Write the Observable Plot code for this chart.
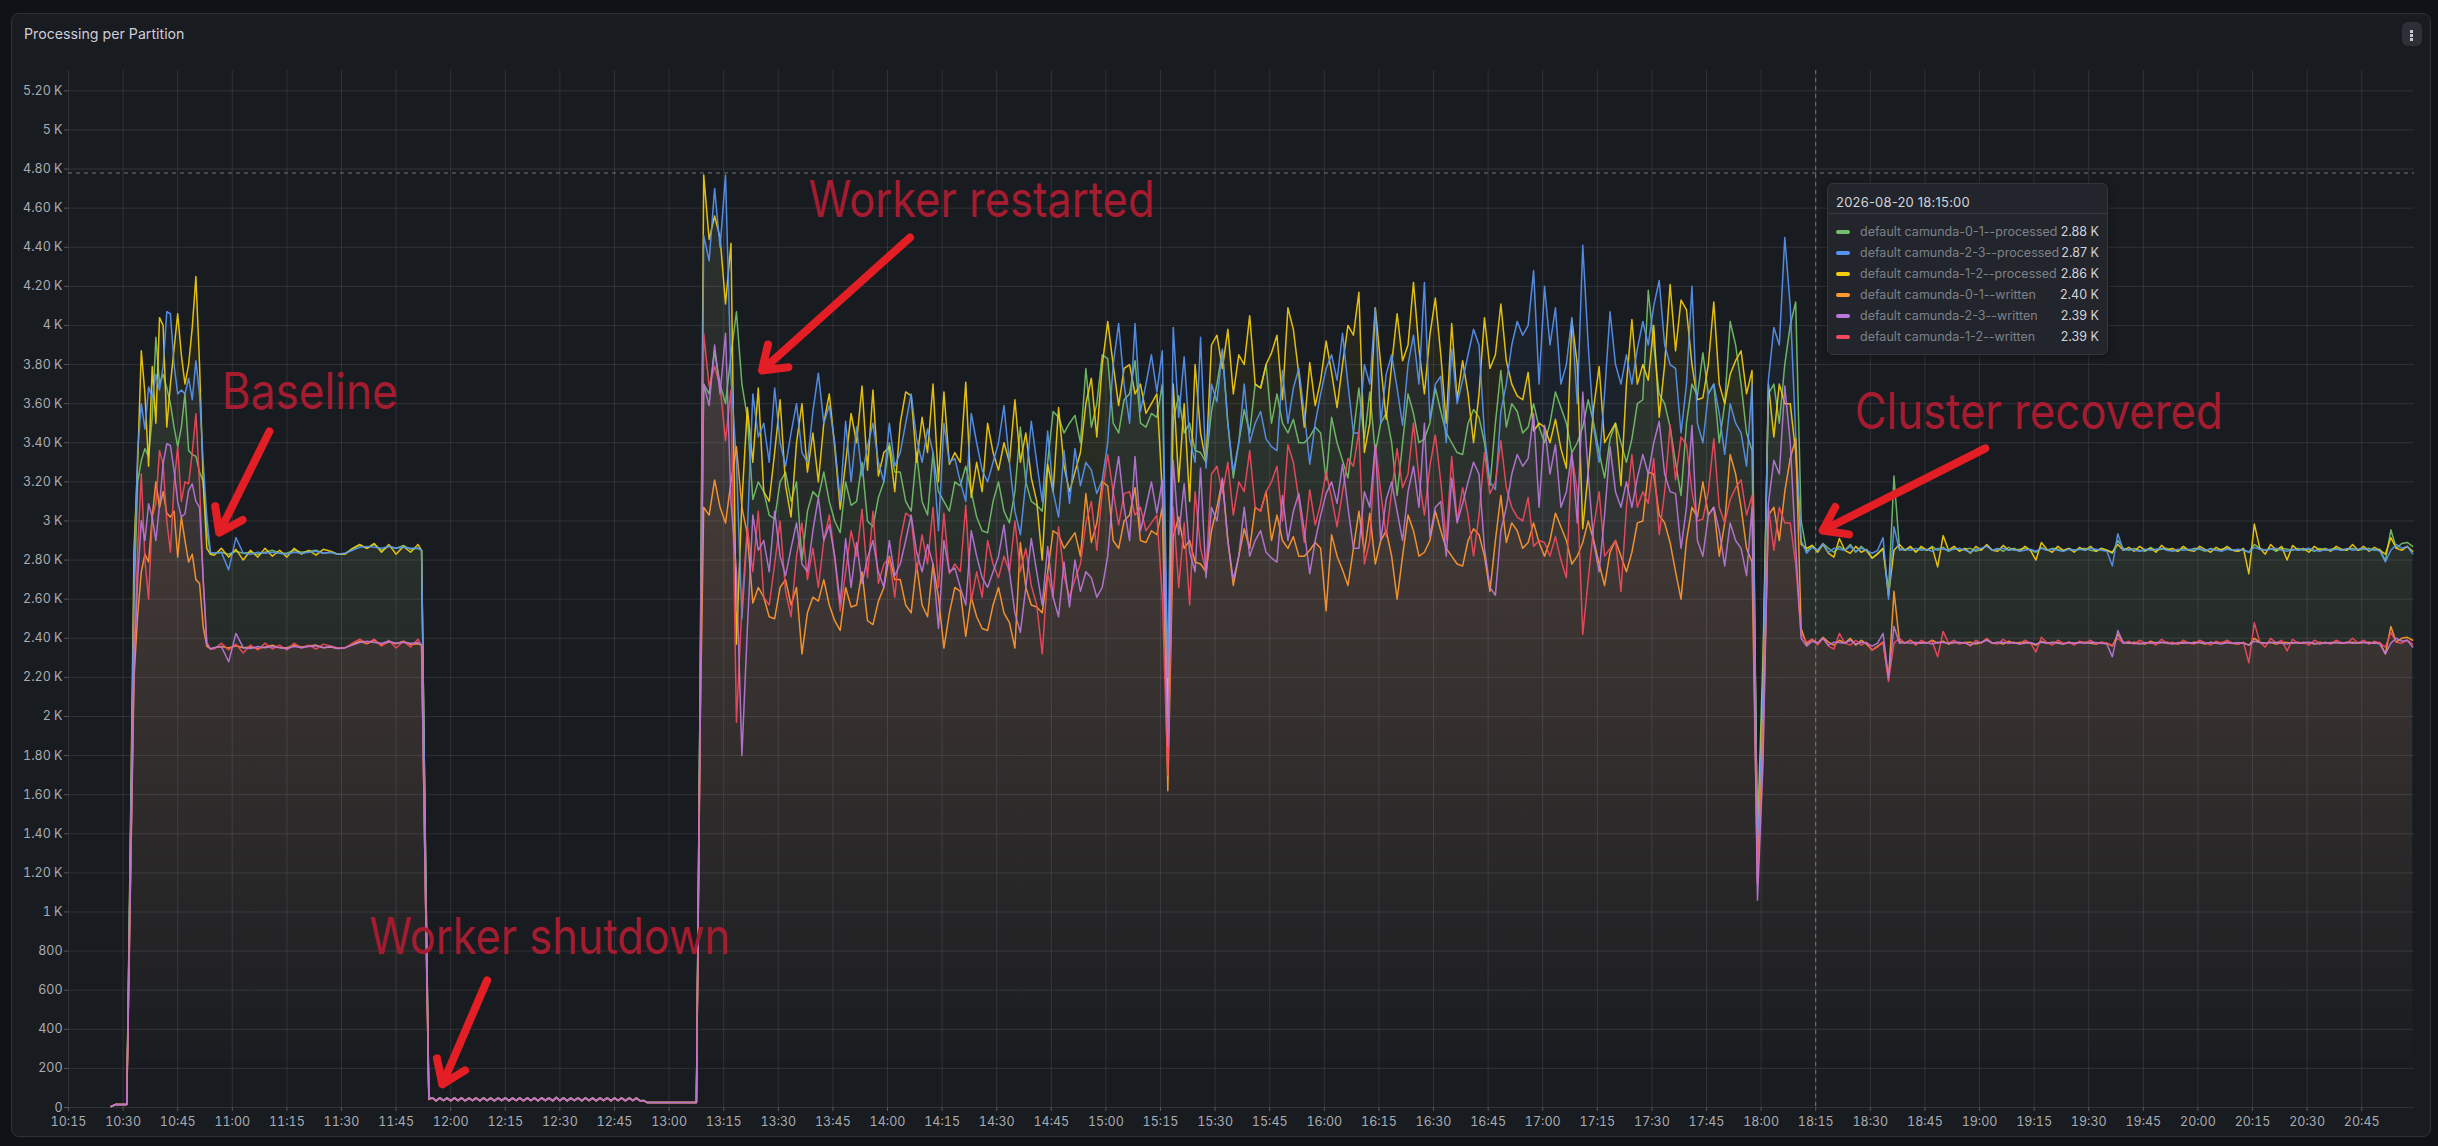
<!DOCTYPE html>
<html><head><meta charset="utf-8">
<script src="https://cdn.jsdelivr.net/npm/d3@7"></script>
<script src="https://cdn.jsdelivr.net/npm/@observablehq/plot@0.6"></script>
<style>
html,body{margin:0;padding:0;width:2438px;height:1146px;overflow:hidden;background:#111217;font-family:Inter,sans-serif}
#panel{position:absolute;left:11px;top:13px;width:2418px;height:1122px;background:#181b1f;border:1px solid #2f3136;border-radius:8px}
#title{position:absolute;left:24px;top:24px;font-size:14.2px;font-weight:400;line-height:20px;color:#ccccdc}
#menu{position:absolute;left:2402px;top:22px;width:20px;height:24px;border-radius:6px;background:#2d3036}
#menu i{position:absolute;left:8px;width:2.5px;height:2.5px;background:#c8c9d0}
#chart{position:absolute;left:0;top:60px}
#tip{position:absolute;left:1827px;top:183px;width:279px;height:170px;background:#22252b;border:1px solid #33363c;border-radius:6px;box-shadow:0 2px 8px rgba(0,0,0,.3)}
#tip .h{position:absolute;left:8px;top:9px;font-size:13px;font-weight:400;color:#d2d3da;line-height:18px;letter-spacing:.2px}
#tip .d{position:absolute;left:0;right:0;top:29px;height:1px;background:#34373d}
.row{position:absolute;left:0;right:0;height:18px;font-size:12.5px;line-height:18px}
.row b{position:absolute;left:8px;top:7px;width:14px;height:4px;border-radius:2px}
.row span{position:absolute;left:32px;color:#7e8188;white-space:nowrap}
.row em{position:absolute;right:8px;font-style:normal;font-weight:400;color:#d2d3da}
</style></head><body>
<div id="panel"></div>
<div id="title">Processing per Partition</div>
<div id="menu"><i style="top:8px"></i><i style="top:12px"></i><i style="top:16px"></i></div>
<div id="chart"></div>
<div id="tip"></div>
<script>
const seriesNames = ["default camunda-0-1--processed","default camunda-2-3--processed","default camunda-1-2--processed","default camunda-0-1--written","default camunda-2-3--written","default camunda-1-2--written"];
const seriesColors = ["#73BF69","#5794F2","#F2CC0C","#FF9830","#B877D9","#F2495C"];
const tipTime = "2026-08-20 18:15:00";
const tipValues = ["2.88 K","2.87 K","2.86 K","2.40 K","2.39 K","2.39 K"];
const xTickLabels = ["10:15","10:30","10:45","11:00","11:15","11:30","11:45","12:00","12:15","12:30","12:45","13:00","13:15","13:30","13:45","14:00","14:15","14:30","14:45","15:00","15:15","15:30","15:45","16:00","16:15","16:30","16:45","17:00","17:15","17:30","17:45","18:00","18:15","18:30","18:45","19:00","19:15","19:30","19:45","20:00","20:15","20:30","20:45"];
const yTickValues = [0,200,400,600,800,1000,1200,1400,1600,1800,2000,2200,2400,2600,2800,3000,3200,3400,3600,3800,4000,4200,4400,4600,4800,5000,5200];
const yTickLabels = ["0","200","400","600","800","1 K","1.20 K","1.40 K","1.60 K","1.80 K","2 K","2.20 K","2.40 K","2.60 K","2.80 K","3 K","3.20 K","3.40 K","3.60 K","3.80 K","4 K","4.20 K","4.40 K","4.60 K","4.80 K","5 K","5.20 K"];
const noteTexts = ["Baseline","Worker shutdown","Worker restarted","Cluster recovered"];
const noteX = [657.1,697.6,818.3,1105.7];
const noteY = [3575,783,4554,3468];
const noteWidths = [176,361,346,368];
const arrowX1 = [670.2,730,846.2,1141.6];
const arrowY1 = [3458,650,4450,3371];
const arrowX2 = [656.4,717.7,805.5,1096.9];
const arrowY2 = [2940,118,3770,2951];
const crosshairMinute = 1095;
const crosshairValue = 4780;

// 10:26.7 - 10:54
const startGreen = [5,15,15,1300,2600,3200,3310,3370,3330,3530,3940,3700,3750,3680,3600,3480,3380,3480,3650,3360,3340,3330,3250,3200,2950,2830];
const startBlue = [5,15,15,1350,2700,3360,3600,3470,3685,3630,3750,3670,3790,4070,4060,3800,3650,3670,3650,3730,3620,3820,3650,3300,3020,2840];
const startYellow = [5,15,15,1400,2850,3300,3870,3650,3280,3790,3500,4040,4000,3480,3700,3880,4060,3850,3700,3800,3990,4250,3800,3200,2860,2830];
const startOrange = [5,15,15,1100,2200,2520,2740,2830,2790,3020,3200,3070,3150,3040,3020,3050,2815,3020,2900,2790,2830,2700,2680,2460,2360,2345];
const startPurple = [5,15,15,1150,2250,2700,3003,2900,3088,3020,2900,3080,3293,3395,3386,3259,3100,3020,3037,3156,3190,3100,3070,2700,2370,2345];
const startRed = [5,15,15,1150,2300,2850,3240,2800,2600,3020,3090,3360,3290,3000,2840,3190,3380,3100,3200,3190,3350,3548,3190,2700,2380,2345];

// 10:55 - 11:54 baseline
const baseGreen = [2835,2840,2830,2845,2835,2840,2830,2840,2850,2835,
2835,2850,2840,2845,2850,2835,2840,2830,2835,2855,
2875,2860,2880,2850,2870,2860,2875,2855,2860,2850,
1380,45];
const baseBlue = [2835,2840,2750,2915,2835,2830,2840,2835,2840,2835,
2830,2840,2835,2840,2845,2835,2840,2830,2835,2850,
2865,2870,2865,2860,2870,2860,2865,2860,2862,2850,
1400,46];
const baseYellow = [2825,2860,2815,2855,2800,2850,2815,2860,2820,2850,
2815,2860,2830,2850,2825,2855,2845,2830,2830,2860,
2880,2860,2885,2840,2880,2830,2870,2840,2880,2850,
1420,44];
const baseOrange = [2352,2358,2350,2362,2352,2355,2348,2355,2365,2352,
2352,2365,2355,2360,2365,2352,2355,2348,2352,2368,
2385,2372,2390,2365,2382,2372,2385,2368,2372,2365,
1150,40];
const basePurple = [2352,2358,2280,2425,2352,2348,2358,2352,2358,2352,
2348,2358,2352,2358,2362,2352,2358,2348,2352,2365,
2378,2385,2378,2375,2385,2375,2380,2375,2378,2365,
1160,43];
const baseRed = [2345,2375,2340,2370,2325,2365,2340,2375,2345,2365,
2340,2375,2350,2365,2345,2370,2360,2350,2350,2375,
2395,2375,2395,2360,2390,2350,2385,2355,2395,2365,
1170,42];

// 11:55 - 13:08.5 worker down
const idleProcessed = [50,35,50,36,49,35,50,36,50,35,
49,36,50,35,50,36,49,35,50,36,
50,35,49,36,50,35,50,36,49,35,
50,36,50,35,52,36,50,35,49,36,
50,35,50,36,49,35,50,36,50,35,
49,36,50,35,50,36,49,35,36,
25,25,25,2100];
const idleWritten = [48,34,48,35,47,34,48,35,48,34,
47,35,48,34,48,35,47,34,48,35,
48,34,47,35,48,34,48,35,47,34,
48,35,48,34,50,35,48,34,47,35,
48,34,48,35,47,34,48,35,48,34,
47,35,48,34,48,35,47,34,35,
25,25,25,1900];

// 13:09.5 - 18:11, every 90 s
const noiseGreen = [3700,3650,3870,3700,3600,3850,4070,3700,3530,3110,
3200,3150,3030,3010,3200,3250,3100,3200,2800,3050,
3150,3120,3250,3100,3000,2940,3200,3080,3100,3300,
3000,2970,3120,3200,3400,3250,3250,3100,3050,3350,
3100,3030,3350,3150,3100,3050,3200,3180,3280,3150,
3020,2950,2940,3100,3200,3050,2990,3150,3480,3200,
3100,3080,3050,3300,3560,3530,3450,3500,3540,3400,
3780,3480,3600,3850,3830,3500,3450,3620,3650,3820,
3500,3480,3550,3530,3700,2100,3520,3640,3450,3500,
3360,3350,3300,3560,3700,3870,3500,3220,3400,3570,
3450,3700,
3680,3800,3500,3650,3500,3450,3520,3400,3400,3430,
3480,3450,3210,3530,3400,3310,3220,3450,3680,3420,
3660,3350,3500,3550,3400,3130,3400,3650,3550,3400,
3420,3500,3680,3560,3450,3400,3350,3340,3500,3570,
3530,3400,3180,3500,3770,3480,3600,3560,3450,3480,
3600,3480,3400,3500,3660,3580,3500,3350,3400,3480,
3620,3500,3350,3220,3420,3500,3400,3300,3420,3600,
3620,4180,3900,3650,3600,3480,3300,3130,3500,3700,
3640,3860,3650,3700,3400,3600,4020,3900,3700,3450,
3360,1400,2300,3650,3700,3500,3800,4000,4120,3000];
const noiseBlue = [4460,4330,4700,4400,4770,3740,3300,2500,2950,3650,
3430,3500,3300,3680,3400,3280,3450,3600,3350,3300,
3560,3756,3500,3590,3400,3105,3510,3200,3480,3230,
3380,3500,3300,3200,3500,3280,3350,3500,3650,3420,
3300,3470,3350,2950,3500,3300,3320,3200,3100,3550,
3400,3260,3200,3300,3400,3590,3300,3050,2930,3200,
3510,3300,3100,3460,3150,3020,3360,3090,3370,3180,
3300,3260,3140,3210,3400,3800,4010,3700,3500,4010,
3560,3700,3850,3660,3870,2200,3990,3530,3840,3420,
3300,3940,3270,3700,3610,3880,3500,3250,3400,3700,
3400,3500,
3560,3420,3380,3360,3770,3500,3680,3780,3550,3290,
3500,3650,3780,3850,3720,3960,3700,3450,3450,3800,
3700,4090,3500,3750,3850,3680,3490,3800,3950,3700,
4220,3520,3700,3740,3400,3880,3600,3720,3850,3980,
3900,3450,3200,3160,3560,3700,3900,4020,3950,4000,
4280,3700,4200,3900,4090,3700,3800,4040,3600,4410,
3900,3480,3300,3650,4070,3800,3700,3850,3700,3880,
4020,3900,4100,4230,3900,3800,3780,3450,3700,4200,
3500,3400,3650,3700,3550,3340,3600,3500,3450,3280,
3700,1250,2100,3720,3990,3900,4450,4100,3440,2900];
const noiseYellow = [4770,4440,4560,4450,4110,4420,2370,3100,3580,3300,
3680,3150,3100,3350,3620,3180,3020,3400,3600,3250,
3450,3200,3500,3650,3380,3060,3300,3550,3400,3690,
3260,3670,3230,3350,3380,3150,3500,3660,3640,3300,
3530,3350,3700,3200,3660,3290,3350,3300,3710,3120,
3300,3150,3500,3350,3260,3400,3300,3620,3300,3450,
3220,3100,2800,3290,3150,3580,3280,3150,3250,3350,
3600,3730,3430,3800,4020,3800,3590,3780,3800,3650,
3700,3550,3600,3650,3150,2000,3700,3200,3600,3100,
3800,3450,3300,3900,3950,3780,3980,3650,3850,3800,
4050,3700,
3680,3800,3860,3950,3620,4090,3980,3750,3480,3810,
3590,3720,3920,3760,3580,3800,4000,3950,4170,3350,
3500,4090,3800,3520,3800,4060,3820,3900,4220,3880,
3650,3950,4140,3850,3500,4010,3620,3820,3650,3400,
3650,4040,3780,3850,4110,3820,3700,3640,3620,3760,
3460,3500,3480,3400,3520,3370,3270,4030,3800,2960,
3250,3580,3790,3400,3450,3500,3180,3700,4030,3700,
3800,3720,4000,3530,3800,4210,3870,4130,4080,3800,
3620,3630,3800,4120,3700,3600,3750,3820,3870,3650,
3770,1260,2200,3700,3430,3700,3600,3600,3350,2880];
const noiseOrange = [3070,3030,3210,3070,2990,3200,3380,3070,2930,2580,
2660,2610,2510,2500,2660,2700,2570,2660,2320,2530,
2610,2590,2700,2570,2490,2440,2660,2560,2570,2740,
2490,2470,2590,2660,2820,2700,2700,2570,2530,2780,
2570,2510,2780,2610,2350,2530,2660,2640,2410,2610,
2510,2450,2440,2570,2660,2530,2480,2350,2890,2660,
2570,2560,2530,2740,2950,2930,2860,2900,2940,2820,
3140,2890,2990,3200,3180,2900,2860,3000,3030,3170,
2900,2890,2950,2930,3070,1620,2920,3020,2860,2900,
2790,2780,2740,2950,3070,3210,2900,2670,2820,2960,
2860,3070,
3050,3150,2900,3030,2900,2860,2920,2820,2820,2850,
2890,2860,2540,2930,2820,2750,2670,2860,3050,2840,
3040,2780,2900,2950,2820,2600,2820,3030,2950,2820,
2840,2900,3050,2950,2860,2820,2780,2770,2900,2960,
2930,2820,2640,2900,3130,2890,2990,2950,2860,2890,
2990,2890,2820,2900,3040,2970,2900,2780,2820,2890,
3000,2900,2780,2670,2840,2900,2820,2740,2840,2990,
3000,3250,3240,3030,2990,2890,2740,2600,2900,3070,
3020,3200,3030,3070,2820,2990,3340,3240,3070,2860,
2790,1150,1900,3030,3070,2900,3150,3320,3420,2450];
const noisePurple = [3700,3590,3900,3650,3960,3100,2740,1800,2450,3030,
2850,2900,2740,3050,2820,2720,2860,2990,2780,2740,
2950,3120,2900,2980,2820,2580,2910,2660,2890,2680,
2810,2900,2740,2660,2900,2720,2780,2900,3030,2840,
2740,2880,2780,2450,2900,2740,2760,2660,2570,2950,
2820,2710,2660,2740,2820,2980,2740,2530,2430,2660,
2910,2740,2570,2870,2610,2510,2790,2560,2800,2640,
2740,2710,2610,2660,2820,3150,3330,3070,2900,3330,
2950,3070,3200,3040,3210,1850,3310,2930,3190,2840,
2740,3270,2710,3070,3000,3220,2900,2700,2820,3070,
2820,2900,
2950,2840,2810,2790,3130,2900,3050,3140,2950,2730,
2900,3030,3140,3200,3090,3290,3070,2860,2860,3150,
3070,3390,2900,3110,3200,3050,2900,3150,3280,3070,
3500,2920,3070,3100,2820,3220,2990,3090,3200,3300,
3240,2860,2660,2620,2950,3070,3240,3340,3280,3320,
3550,3070,3490,3240,3390,3070,3150,3350,2990,3660,
3240,2890,2740,3030,3380,3150,3070,3200,3070,3220,
3340,3240,3400,3510,3240,3150,3140,2860,3070,3490,
2900,2820,3030,3070,2950,2770,2990,2900,2860,2720,
3070,1060,1750,3090,3310,3240,3690,3400,2860,2400];
const noiseRed = [3960,3690,3790,3690,3410,3670,1970,2570,2970,2740,
3050,2610,2570,2780,3000,2640,2510,2820,2990,2700,
2860,2660,2900,3030,2810,2540,2740,2950,2820,3060,
2710,3050,2680,2780,2810,2610,2900,3040,3020,2740,
2930,2780,3070,2660,3040,2730,2780,2740,3080,2590,
2740,2610,2900,2780,2710,2820,2740,3000,2740,2860,
2670,2570,2320,2730,2610,2970,2720,2610,2700,2780,
2990,3100,2850,3150,3340,3150,2980,3140,3150,3030,
3070,2950,2990,3030,2610,1700,3070,2660,2990,2570,
3150,2860,2740,3240,3280,3140,3300,3030,3200,3150,
3360,3070,
3050,3150,3200,3280,3000,3390,3300,3110,2890,3160,
2980,3090,3250,3120,2970,3150,3320,3280,3460,2780,
2900,3390,3150,2920,3150,3370,3170,3240,3500,3220,
3030,3280,3440,3200,2900,3330,3000,3170,3030,2820,
3030,3350,3140,3200,3410,3170,3070,3020,3000,3120,
2870,2900,2890,2820,2920,2800,2710,3340,3150,2420,
2700,2970,3150,2820,2860,2900,2640,3070,3340,3070,
3150,3090,3320,2930,3150,3490,3210,3430,3390,3150,
3000,3010,3150,3420,3070,2990,3110,3170,3210,3030,
3130,1150,1800,3070,2850,3070,2990,2990,2780,2420];

// 18:12.5 - 20:59, every 90 s
const tailGreen = [2845,2875,2850,2885,2860,2840,2870,2850,2880,2840,
2870,2845,2810,2835,2860,2640,3230,2860,2850,2865,
2845,2860,2850,2870,2850,2865,2845,2860,2850,2855,
2860,2845,2855,2875,2850,2860,2845,2865,2850,2855,
2860,2850,2840,2865,2850,2860,2855,2845,2860,2850,
2855,2860,2850,2845,2860,2850,2835,2900,2860,2850,
2860,2850,2845,2865,2850,2855,2860,2850,2845,2860,
2850,2860,2855,2845,2860,2850,2855,2860,2850,2845,
2855,2840,2880,2860,2850,2860,2845,2860,2855,2850,
2860,2850,2855,2845,2860,2850,2855,2860,2850,2855,
2860,2850,2855,2860,2850,2855,2795,2955,2860,2885,
2890,2870];
const tailBlue = [2835,2865,2850,2880,2840,2860,2855,2850,2870,2845,
2860,2850,2835,2850,2915,2600,2970,2850,2855,2850,
2860,2850,2855,2845,2860,2855,2850,2855,2860,2850,
2840,2855,2860,2870,2850,2855,2860,2850,2855,2845,
2850,2855,2845,2860,2850,2855,2850,2845,2855,2850,
2855,2850,2860,2855,2850,2845,2770,2935,2850,2855,
2850,2845,2855,2850,2855,2860,2850,2845,2855,2850,
2855,2850,2860,2850,2855,2850,2845,2855,2850,2855,
2850,2840,2865,2855,2850,2855,2860,2850,2845,2855,
2850,2855,2860,2850,2845,2855,2850,2855,2850,2860,
2850,2855,2860,2850,2855,2845,2790,2850,2880,2860,
2870,2832];
const tailYellow = [2860,2875,2840,2880,2835,2815,2910,2850,2835,2870,
2840,2855,2810,2830,2860,2620,2850,2880,2850,2870,
2840,2870,2850,2865,2765,2925,2850,2870,2845,2860,
2835,2870,2850,2880,2850,2845,2875,2850,2860,2845,
2870,2850,2800,2890,2855,2840,2870,2850,2860,2840,
2865,2850,2870,2845,2860,2850,2840,2880,2850,2865,
2845,2870,2850,2860,2840,2875,2850,2860,2845,2870,
2850,2845,2870,2855,2840,2865,2850,2870,2850,2845,
2860,2730,2985,2860,2830,2880,2850,2870,2800,2875,
2850,2860,2840,2870,2850,2860,2845,2870,2855,2850,
2880,2850,2870,2845,2865,2850,2830,2915,2860,2850,
2870,2845];
const tailOrange = [2370,2395,2375,2405,2380,2365,2390,2375,2400,2365,
2390,2370,2340,2360,2380,2190,2640,2385,2375,2390,
2370,2380,2375,2390,2375,2385,2370,2380,2375,2378,
2380,2370,2378,2395,2375,2380,2370,2385,2375,2378,
2380,2375,2365,2385,2375,2380,2378,2370,2380,2375,
2378,2380,2375,2370,2380,2375,2360,2420,2380,2375,
2380,2375,2370,2385,2375,2378,2380,2375,2370,2380,
2375,2380,2378,2370,2380,2375,2378,2380,2375,2370,
2378,2365,2400,2380,2375,2380,2370,2380,2378,2375,
2380,2375,2378,2370,2380,2375,2378,2380,2375,2378,
2380,2375,2378,2380,2375,2378,2320,2460,2380,2400,
2405,2390];
const tailPurple = [2360,2385,2375,2400,2365,2380,2378,2375,2390,2370,
2380,2375,2360,2375,2425,2200,2460,2375,2378,2375,
2380,2375,2378,2370,2380,2378,2375,2378,2380,2375,
2365,2378,2380,2390,2375,2378,2380,2375,2378,2370,
2375,2378,2370,2380,2375,2378,2375,2370,2378,2375,
2378,2375,2380,2378,2375,2370,2305,2440,2375,2378,
2375,2370,2378,2375,2378,2380,2375,2370,2378,2375,
2378,2375,2380,2375,2378,2375,2370,2378,2375,2378,
2375,2365,2385,2378,2375,2378,2380,2375,2370,2378,
2375,2378,2380,2375,2370,2378,2375,2378,2375,2380,
2375,2378,2380,2375,2378,2370,2320,2375,2400,2385,
2390,2355];
const tailRed = [2380,2395,2365,2400,2360,2345,2425,2375,2365,2390,
2365,2380,2340,2355,2380,2180,2375,2400,2375,2390,
2365,2390,2375,2385,2305,2435,2375,2390,2370,2380,
2360,2390,2375,2400,2375,2370,2395,2375,2380,2370,
2390,2375,2330,2405,2378,2365,2390,2375,2380,2365,
2385,2375,2390,2370,2380,2375,2365,2400,2375,2385,
2370,2390,2375,2380,2365,2395,2375,2380,2370,2390,
2375,2370,2390,2378,2365,2385,2375,2390,2375,2370,
2380,2275,2480,2380,2355,2400,2375,2390,2335,2395,
2375,2380,2365,2390,2375,2380,2370,2390,2378,2375,
2400,2375,2390,2370,2385,2375,2355,2430,2380,2375,
2390,2370];

// sample times, minutes after midnight
const timesStart = [626.7,628,631,...d3.range(632,655)];
const timesBase = [...d3.range(655,712,2),712,713,714];
const timesIdle = [...d3.range(715,774),774,780,787.5,788.5];
const timesNoise = d3.range(202).map(k => 789.5 + 1.5*k);
const timesTail = d3.range(112).map(m => 1092.5 + 1.5*m);

const when = m => new Date(Date.UTC(2026,7,20,0,0,Math.round(m*60)));
const fromLabel = s => { const [h,m] = s.split(":").map(Number); return when(h*60+m); };

const segments = [
 [timesStart,[startGreen,startBlue,startYellow,startOrange,startPurple,startRed]],
 [timesBase,[baseGreen,baseBlue,baseYellow,baseOrange,basePurple,baseRed]],
 [timesIdle,[idleProcessed,idleProcessed,idleProcessed,idleWritten,idleWritten,idleWritten]],
 [timesNoise,[noiseGreen,noiseBlue,noiseYellow,noiseOrange,noisePurple,noiseRed]],
 [timesTail,[tailGreen,tailBlue,tailYellow,tailOrange,tailPurple,tailRed]]
];
const rowsFor = i => segments.flatMap(([ts,vs]) => ts.map((t,k)=>({t:when(t),v:vs[i][k]})).filter(d=>d.v!=null));
const table = seriesNames.map((_,i)=>rowsFor(i));
// draw order: written over processed, blue over yellow, purple over red
const order = [0,2,1,3,5,4];

const W = 2438, H = 1076, mT = 10, mB = 29, mL = 68, mR = 24;

const gradients = () => {
  const defs = d3.create("svg:defs");
  seriesColors.forEach((c,i)=>{
    const g = defs.append("linearGradient").attr("id","fade"+i).attr("gradientUnits","userSpaceOnUse")
      .attr("x1",0).attr("x2",0).attr("y1",mT).attr("y2",H-mB-20);
    g.append("stop").attr("offset",0).attr("stop-color",c).attr("stop-opacity",0.085);
    g.append("stop").attr("offset",1).attr("stop-color",c).attr("stop-opacity",0);
  });
  return defs.node();
};

const xTicks = xTickLabels.map(fromLabel);
const plot = Plot.plot({
  width: W, height: H, marginTop: mT, marginBottom: mB, marginLeft: mL, marginRight: mR,
  style: {background:"transparent", fontFamily:"Inter, sans-serif", fontSize:"12.5px", color:"#a9abb3", overflow:"visible"},
  x: {type:"utc", domain:[fromLabel("10:15"), when(615+644.5)]},
  y: {domain:[0,5304]},
  marks: [
    gradients,
    ...order.map(i => Plot.areaY(table[i], {x:"t", y:"v", fill:`url(#fade${i})`, curve:"linear"})),
    Plot.gridX(xTicks, {stroke:"#ccccdc", strokeOpacity:.13, strokeWidth:1}),
    Plot.gridY(yTickValues, {stroke:"#ccccdc", strokeOpacity:.13, strokeWidth:1}),
    Plot.ruleX([when(crosshairMinute)], {stroke:"#8a8c92", strokeOpacity:.8, strokeDasharray:"4 4", strokeWidth:1}),
    Plot.ruleY([crosshairValue], {stroke:"#8a8c92", strokeOpacity:.8, strokeDasharray:"4 4", strokeWidth:1}),
    ...order.map(i => Plot.line(table[i], {x:"t", y:"v", stroke:seriesColors[i], strokeWidth:1.5, strokeOpacity:.92, curve:"linear"})),
    Plot.axisX({ticks:xTicks, tickFormat:d3.utcFormat("%H:%M"), tickSize:4, tickPadding:6, stroke:"#55575c", fill:"#a9abb3", label:null, fontSize:12.5}),
    Plot.axisY({ticks:yTickValues, tickFormat:v=>yTickLabels[yTickValues.indexOf(v)], tickSize:4, tickPadding:2, stroke:"#55575c", fill:"#a9abb3", label:null, fontSize:12.5}),
    Plot.text(noteTexts, {x:(d,i)=>when(noteX[i]), y:(d,i)=>noteY[i], text:d=>d, textAnchor:"start", lineAnchor:"bottom", fontSize:50, fill:"#A51C30", className:"note"}),
    Plot.arrow(noteTexts, {x1:(d,i)=>when(arrowX1[i]), y1:(d,i)=>arrowY1[i], x2:(d,i)=>when(arrowX2[i]), y2:(d,i)=>arrowY2[i], stroke:"#E31E24", strokeWidth:8, headLength:5, headAngle:70, inset:0})
  ]
});
plot.querySelectorAll(".note text").forEach((el,i)=>{
  el.setAttribute("textLength", noteWidths[i]);
  el.setAttribute("lengthAdjust","spacingAndGlyphs");
});
document.getElementById("chart").append(plot);

const tip = document.getElementById("tip");
tip.innerHTML = `<div class="h">${tipTime}</div><div class="d"></div>` +
  seriesNames.map((n,i)=>`<div class="row" style="top:${39+i*21}px"><b style="background:${seriesColors[i]}"></b><span>${n}</span><em>${tipValues[i]}</em></div>`).join("");
</script>
</body></html>
